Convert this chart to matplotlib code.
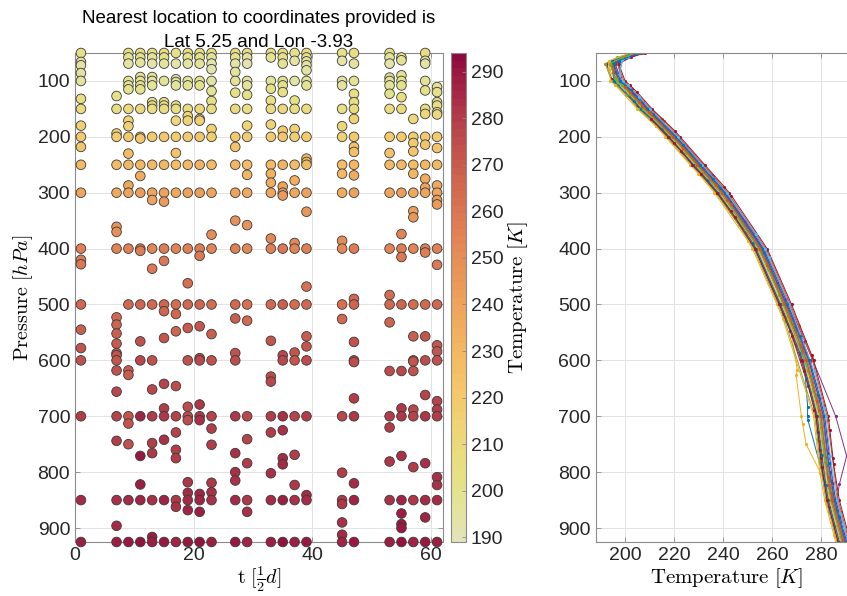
import numpy as np
import matplotlib
matplotlib.use("Agg")
import matplotlib.pyplot as plt
from matplotlib.colors import LinearSegmentedColormap, ListedColormap, Normalize

plt.rcParams["font.family"] = ["Liberation Sans", "DejaVu Sans"]
plt.rcParams["mathtext.fontset"] = "cm"

# time steps (half days) that have a sounding
t_steps = [1, 7, 9, 11, 13, 15, 17, 19, 21, 23, 27, 29,
           33, 35, 37, 39, 45, 47, 53, 55, 57, 59, 61]

obs_p = [
    [50, 66, 72, 86, 100, 132, 150, 180, 200, 218, 250, 300, 400, 420, 428, 500, 545, 578, 600, 700, 850, 925],
    [127, 150, 194, 200, 250, 300, 361, 370, 400, 523, 536, 552, 570, 587, 591, 600, 618, 656, 700, 744, 850, 896, 925],
    [50, 58, 69, 100, 108, 115, 150, 171, 181, 200, 230, 250, 287, 300, 400, 500, 618, 626, 700, 713, 750, 850, 925],
    [50, 58, 67, 93, 100, 108, 115, 150, 200, 203, 250, 270, 300, 400, 404, 500, 566, 600, 700, 771, 822, 850, 925],
    [50, 58, 69, 93, 100, 108, 138, 144, 150, 200, 250, 300, 313, 400, 436, 500, 600, 652, 700, 748, 766, 850, 916, 925],
    [50, 58, 69, 100, 138, 144, 150, 200, 250, 300, 316, 400, 422, 500, 512, 560, 642, 686, 700, 742, 850, 925],
    [50, 69, 97, 102, 108, 144, 150, 171, 200, 229, 250, 300, 400, 500, 517, 548, 646, 700, 729, 760, 775, 850, 862, 925],
    [50, 58, 69, 100, 108, 150, 163, 171, 200, 250, 300, 400, 462, 500, 542, 600, 683, 700, 707, 818, 837, 850, 868, 925],
    [50, 58, 69, 100, 108, 150, 168, 171, 200, 250, 300, 400, 413, 500, 539, 596, 600, 679, 700, 707, 839, 850, 871, 925],
    [50, 58, 69, 79, 100, 118, 136, 150, 186, 200, 250, 300, 375, 400, 500, 553, 600, 700, 722, 751, 819, 836, 850, 925],
    [50, 58, 69, 84, 100, 121, 150, 200, 218, 250, 300, 350, 400, 500, 525, 587, 600, 700, 766, 800, 815, 850, 925],
    [50, 58, 69, 100, 108, 125, 150, 180, 200, 250, 268, 300, 358, 400, 500, 529, 700, 741, 784, 850, 871, 925],
    [50, 58, 100, 114, 135, 150, 178, 200, 250, 266, 282, 300, 382, 400, 500, 565, 629, 638, 700, 729, 802, 850, 925],
    [50, 58, 69, 100, 108, 120, 150, 189, 200, 250, 289, 300, 305, 400, 500, 591, 600, 700, 725, 775, 786, 850, 925],
    [50, 64, 100, 135, 150, 186, 200, 250, 278, 300, 390, 400, 500, 586, 600, 700, 769, 823, 850, 925],
    [50, 58, 65, 72, 81, 100, 108, 150, 200, 239, 245, 250, 300, 334, 400, 468, 500, 557, 575, 600, 700, 841, 850, 925],
    [50, 64, 100, 108, 150, 181, 200, 250, 266, 300, 386, 400, 500, 526, 700, 801, 850, 857, 890, 912, 925],
    [50, 69, 100, 123, 138, 150, 168, 200, 218, 227, 250, 269, 300, 400, 490, 500, 567, 600, 603, 668, 700, 820, 850, 925],
    [50, 58, 69, 94, 100, 108, 123, 150, 200, 229, 250, 300, 400, 483, 500, 532, 619, 700, 720, 781, 850, 925],
    [58, 63, 90, 100, 108, 129, 150, 200, 250, 300, 374, 400, 415, 500, 619, 686, 700, 771, 850, 874, 893, 900, 925],
    [168, 200, 211, 226, 250, 266, 300, 333, 344, 400, 500, 557, 600, 602, 619, 688, 700, 791, 850, 925],
    [50, 64, 69, 100, 117, 150, 159, 200, 214, 250, 275, 291, 300, 400, 407, 500, 557, 600, 662, 700, 784, 850, 881, 925],
    [111, 120, 138, 144, 156, 160, 200, 220, 250, 287, 300, 313, 321, 400, 429, 500, 573, 584, 600, 673, 688, 700, 809, 823, 850, 925],
]

# mean temperature profile
profile_p = [50, 60, 70, 85, 100, 125, 150, 200, 250, 300, 400, 500, 600, 700, 800, 850, 900, 925]
profile_T = [205, 198, 194, 195, 197, 203, 208, 219.5, 229.5, 239.5, 255, 265, 274, 280, 282.5, 284.5, 287.5, 289]

# spread of the individual soundings around the mean [K]
col_offset = [0.0, -1.5, 1.0, 2.0, -0.5, 1.5, -2.0, 0.5, 2.5, -1.0, 1.0, -2.5,
              0.0, 3.0, -1.5, 0.5, -3.0, 1.5, -0.5, 2.0, -2.0, 1.0, 0.0]

# soundings with a clear departure in the lower troposphere
anom_p = [550, 620, 650, 700, 780, 840]
anom_dT = {
    2: [0, -6, -10, -9, -8, 0],
    7: [0, -2, -3, -6, -6, 0],
    3: [0, 1, 2, 4, 7, 0],
}

cb_ticks = [190, 200, 210, 220, 230, 240, 250, 260, 270, 280, 290]
cmap_T = [189, 200, 210, 220, 230, 240, 250, 260, 270, 280, 290, 294]
cmap_hex = ["#e2e3b8", "#e4e38a", "#ecd97a", "#f4c96c", "#f3b762", "#eea35b",
            "#e68e57", "#db7652", "#ca5d4e", "#b4404a", "#9b1a42", "#8e0b3d"]

matlab_colors = ["#0072BD", "#D95319", "#EDB120", "#7E2F8E",
                 "#77AC30", "#4DBEEE", "#A2142F"]

vmin, vmax = 189, 294
nodes = [(v - vmin) / (vmax - vmin) for v in cmap_T]
cmap = ListedColormap(
    LinearSegmentedColormap.from_list("tcol", list(zip(nodes, cmap_hex)))(np.linspace(0, 1, 64)))
norm = Normalize(vmin, vmax)

obs_T = []
for i, p in enumerate(obs_p):
    p = np.array(p, dtype=float)
    T = np.interp(np.log(p), np.log(profile_p), profile_T) + col_offset[i]
    if i in anom_dT:
        T = T + np.interp(p, anom_p, anom_dT[i], left=0, right=0)
    obs_T.append(T)

W, H = 847, 596
fig = plt.figure(figsize=(W / 100, H / 100), dpi=100)

spine_c = "#8a8a8a"
grid_c = "#e3e3e3"
tick_c = "#262626"


def style(ax):
    for s in ax.spines.values():
        s.set_color(spine_c)
        s.set_linewidth(0.8)
    ax.tick_params(direction="in", length=3.5, width=0.6, color=spine_c,
                   labelcolor=tick_c, labelsize=14, top=True, right=True)
    ax.grid(True, color=grid_c, linewidth=0.7)
    ax.set_axisbelow(True)


# left: scatter of all soundings coloured by temperature
ax = fig.add_axes([75 / W, 54 / H, 368 / W, 489 / H])
style(ax)
xs = np.concatenate([[t] * len(p) for t, p in zip(t_steps, obs_p)])
ys = np.concatenate(obs_p)
cs = np.concatenate(obs_T)
sc = ax.scatter(xs, ys, c=cs, cmap=cmap, norm=norm, s=48,
                edgecolors="#3a3a3a", linewidths=0.6, clip_on=False, zorder=3)
ax.set_xticks([0, 20, 40, 60])
ax.set_yticks(range(100, 901, 100))
ax.set_xlim(0, 62)
ax.set_ylim(925, 50)
ax.set_xlabel(r"$\mathrm{t}\ [\frac{1}{2}d]$", fontsize=14.5, labelpad=0)
ax.set_ylabel(r"$\mathrm{Pressure}\ [hPa]$", fontsize=14.5, labelpad=2)
ax.set_title("Nearest location to coordinates provided is\nLat 5.25 and Lon -3.93",
             fontsize=13.5, linespacing=1.55, pad=4)

# colorbar
cax = fig.add_axes([451 / W, 54 / H, 15 / W, 489 / H])
cb = fig.colorbar(sc, cax=cax, ticks=cb_ticks)
cb.outline.set_edgecolor(spine_c)
cb.outline.set_linewidth(0.8)
cax.tick_params(direction="in", length=3, width=0.6, color=spine_c,
                labelcolor=tick_c, labelsize=14)
cb.set_label(r"$\mathrm{Temperature}\ [K]$", fontsize=15, labelpad=2)

# right: individual temperature profiles
ax2 = fig.add_axes([595.7 / W, 54 / H, 262 / W, 489 / H])
style(ax2)
for i, (p, T) in enumerate(zip(obs_p, obs_T)):
    ax2.plot(T, p, ".-", color=matlab_colors[i % 7], linewidth=0.7,
             markersize=2.5)
ax2.set_xticks([200, 220, 240, 260, 280])
ax2.set_yticks(range(100, 901, 100))
ax2.set_xlim(188, 295)
ax2.set_ylim(925, 50)
ax2.set_xlabel(r"$\mathrm{Temperature}\ [K]$", fontsize=15, labelpad=2)

fig.savefig("out.png", dpi=100)
